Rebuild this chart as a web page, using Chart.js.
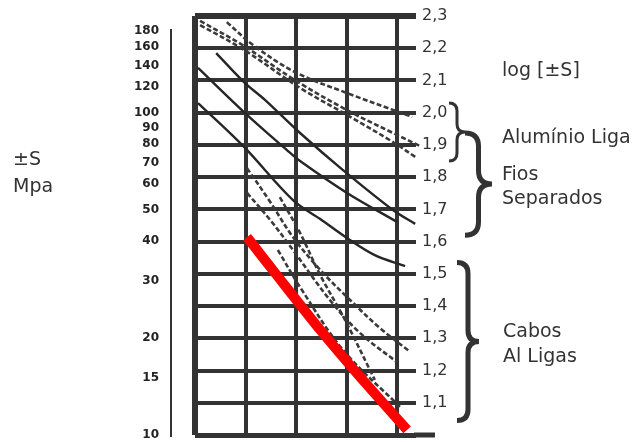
<!DOCTYPE html>
<html>
<head>
<meta charset="utf-8">
<script src="https://cdn.jsdelivr.net/npm/chart.js@4/dist/chart.umd.min.js"></script>
<style>
  html, body { margin: 0; padding: 0; background: #ffffff; }
  #wrap { width: 637px; height: 442px; }
</style>
</head>
<body>
<div id="wrap"><canvas id="c" width="637" height="442"></canvas></div>
<script>
// Stress axis: log10 of stress on the right, MPa values on the left
const logTicks = [1.0, 1.1, 1.2, 1.3, 1.4, 1.5, 1.6, 1.7, 1.8, 1.9, 2.0, 2.1, 2.2, 2.3];
const logTickLabels = ['', '1,1', '1,2', '1,3', '1,4', '1,5', '1,6', '1,7', '1,8', '1,9', '2,0', '2,1', '2,2', '2,3'];
const mpaTicks = [10, 15, 20, 30, 40, 50, 60, 70, 80, 90, 100, 120, 140, 160, 180];
const xGrid = [0, 1, 2, 3, 4];

// Alumínio Liga (dashed)
const aluA_x = [0.10, 0.97, 1.98, 3.01, 4.00, 4.45];
const aluA_y = [2.285, 2.207, 2.101, 2.008, 1.931, 1.897];
const aluB_x = [0.63, 1.15, 1.98, 3.01, 4.30];
const aluB_y = [2.281, 2.210, 2.126, 2.061, 1.987];
const aluC_x = [0.10, 0.97, 2.08, 3.01, 3.92, 4.36];
const aluC_y = [2.272, 2.195, 2.077, 1.993, 1.909, 1.863];

// Fios Separados (solid)
const fiosA_x = [0.42, 0.97, 1.39, 2.08, 2.93, 3.92, 4.36];
const fiosA_y = [2.185, 2.095, 2.039, 1.937, 1.822, 1.698, 1.655];
const fiosB_x = [0.06, 0.97, 1.82, 2.08, 3.01, 4.00];
const fiosB_y = [2.139, 2.002, 1.884, 1.850, 1.751, 1.661];
const fiosC_x = [0.06, 0.97, 1.94, 2.48, 3.01, 3.56, 4.16];
const fiosC_y = [2.030, 1.894, 1.729, 1.670, 1.611, 1.558, 1.524];

// Cabos Al Ligas (dashed)
const cabA_x = [1.03, 1.49, 1.94, 2.48, 3.07, 3.66, 4.26];
const cabA_y = [1.828, 1.723, 1.614, 1.512, 1.419, 1.332, 1.258];
const cabB_x = [1.03, 1.49, 1.94, 2.67, 3.27, 4.00];
const cabB_y = [1.751, 1.667, 1.574, 1.419, 1.316, 1.226];
const cabC_x = [1.68, 2.08, 2.48, 2.97, 3.56];
const cabC_y = [1.738, 1.627, 1.496, 1.357, 1.171];
const cabD_x = [1.64, 2.08, 2.93, 4.06];
const cabD_y = [1.574, 1.459, 1.264, 1.087];

// Highlighted curve (red)
const red_x = [1.03, 1.68, 2.48, 3.27, 4.20];
const red_y = [1.614, 1.484, 1.326, 1.180, 1.016];

const INK = '#333333';
const pts = (xs, ys) => xs.map((x, i) => ({ x: x, y: ys[i] }));

function solid(xs, ys) {
  return { data: pts(xs, ys), borderColor: '#262626', borderWidth: 2.4,
           pointRadius: 0, tension: 0.35, clip: false, fill: false };
}
function dashed(xs, ys) {
  return { data: pts(xs, ys), borderColor: '#3a3a3a', borderWidth: 2.6,
           borderDash: [5, 2.5], pointRadius: 0, tension: 0.35, clip: false, fill: false };
}

// vertical axes: fixed widths, no extra label overhang padding
function fixVertical(width) {
  return s => { s.width = width; s.paddingTop = 0; s.paddingBottom = 0; };
}

// Side labels, braces and the extra axis strokes
const decorations = {
  id: 'decorations',
  afterDraw(chart) {
    const ctx = chart.ctx;
    const ys = chart.scales.y;
    const area = chart.chartArea;
    ctx.save();
    ctx.strokeStyle = INK;
    ctx.fillStyle = INK;

    // bottom axis stroke runs a little past the grid
    const yb = ys.getPixelForValue(1.0);
    ctx.lineWidth = 5;
    ctx.beginPath();
    ctx.moveTo(area.right - 2, yb);
    ctx.lineTo(435, yb);
    ctx.stroke();

    // thin rule beside the MPa labels
    ctx.lineWidth = 2;
    ctx.beginPath();
    ctx.moveTo(171, ys.getPixelForValue(2.26));
    ctx.lineTo(171, yb + 2);
    ctx.stroke();

    // braces
    function brace(x, vTop, vBot, w, lw) {
      const top = ys.getPixelForValue(vTop), bot = ys.getPixelForValue(vBot);
      const mid = (top + bot) / 2, h = w / 2;
      ctx.lineWidth = lw;
      ctx.beginPath();
      ctx.moveTo(x, top);
      ctx.quadraticCurveTo(x + h, top, x + h, top + h);
      ctx.lineTo(x + h, mid - h);
      ctx.quadraticCurveTo(x + h, mid, x + w, mid);
      ctx.quadraticCurveTo(x + h, mid, x + h, mid + h);
      ctx.lineTo(x + h, bot - h);
      ctx.quadraticCurveTo(x + h, bot, x, bot);
      ctx.stroke();
    }
    brace(449, 2.03, 1.85, 16, 3);
    brace(465, 1.937, 1.62, 27, 5);
    brace(457, 1.535, 1.045, 22, 5);

    // text
    ctx.font = '19px "DejaVu Sans"';
    ctx.textAlign = 'left';
    ctx.textBaseline = 'alphabetic';
    ctx.fillText('±S', 13, 165);
    ctx.fillText('Mpa', 13, 192);
    ctx.fillText('log [±S]', 502, 76);
    ctx.fillText('Alumínio Liga', 502, 143);
    ctx.fillText('Fios', 502, 180);
    ctx.fillText('Separados', 502, 204);
    ctx.fillText('Cabos', 503, 337);
    ctx.fillText('Al Ligas', 503, 362);
    ctx.restore();
  }
};

new Chart(document.getElementById('c'), {
  type: 'line',
  data: {
    datasets: [
      { data: pts(red_x, red_y), borderColor: '#ff0000', borderWidth: 10,
        borderCapStyle: 'butt', pointRadius: 0, tension: 0.2, clip: false, fill: false },
      dashed(aluA_x, aluA_y), dashed(aluB_x, aluB_y), dashed(aluC_x, aluC_y),
      solid(fiosA_x, fiosA_y), solid(fiosB_x, fiosB_y), solid(fiosC_x, fiosC_y),
      dashed(cabA_x, cabA_y), dashed(cabB_x, cabB_y), dashed(cabC_x, cabC_y), dashed(cabD_x, cabD_y)
    ]
  },
  options: {
    responsive: false,
    animation: false,
    devicePixelRatio: 1,
    layout: { padding: { top: 16, bottom: 7, left: 0, right: 0 } },
    plugins: { legend: { display: false }, tooltip: { enabled: false } },
    scales: {
      x: {
        type: 'linear', min: 0, max: 4.376,
        afterBuildTicks: s => { s.ticks = xGrid.map(v => ({ value: v })); },
        afterFit: s => { s.height = 0; s.paddingLeft = 0; s.paddingRight = 0; },
        ticks: { display: false },
        border: { display: false },
        grid: { color: INK, drawTicks: false,
                lineWidth: c => (c.tick && c.tick.value === 0 ? 6 : 4) }
      },
      mpa: {
        type: 'linear', position: 'left', min: 1.0, max: 2.3,
        afterBuildTicks: s => { s.ticks = mpaTicks.map(v => ({ value: Math.log10(v) })); },
        afterFit: fixVertical(195),
        ticks: {
          autoSkip: false, padding: 36, color: '#222222',
          font: { family: '"DejaVu Sans"', size: 12, weight: 'bold' },
          callback: (v, i) => String(mpaTicks[i])
        },
        border: { display: false },
        grid: { display: false, drawTicks: false, tickLength: 0 }
      },
      y: {
        type: 'linear', position: 'right', min: 1.0, max: 2.3,
        afterBuildTicks: s => { s.ticks = logTicks.map(v => ({ value: v })); },
        afterFit: fixVertical(221),
        ticks: {
          autoSkip: false, padding: 6, color: INK,
          font: { family: '"DejaVu Sans"', size: 16 },
          callback: (v, i) => logTickLabels[i]
        },
        border: { display: false },
        grid: { color: INK, drawTicks: false, tickLength: 0,
                lineWidth: c => {
                  if (!c.tick) return 4;
                  if (Math.abs(c.tick.value - 2.3) < 1e-6) return 6;
                  if (Math.abs(c.tick.value - 1.0) < 1e-6) return 5;
                  return 4;
                } }
      }
    }
  },
  plugins: [decorations]
});
</script>
</body>
</html>
